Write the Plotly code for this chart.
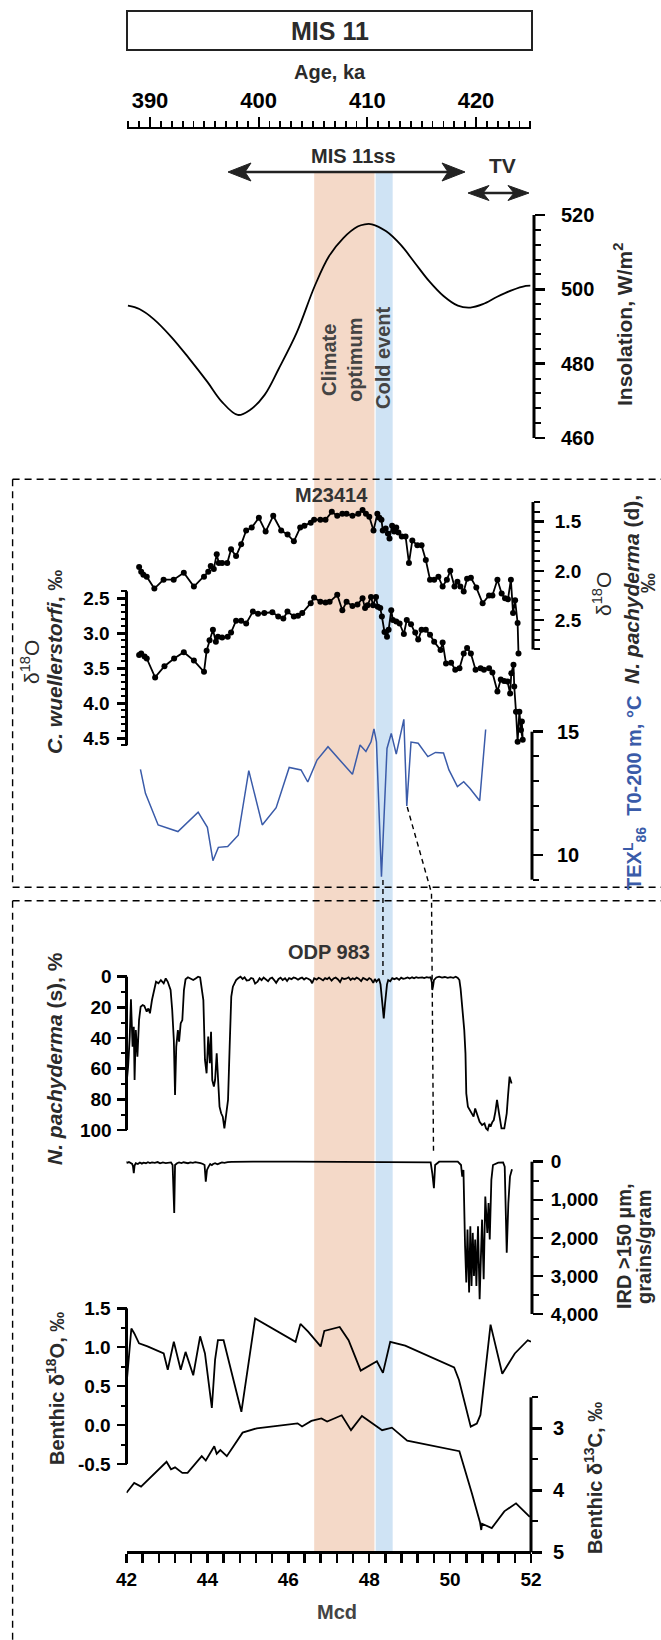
import plotly.graph_objects as go

W, H = 661, 1640

# ---------------- data ----------------
# Insolation (W/m2) vs age (ka)
insol_age = [387.97, 389.02, 390.34, 391.99, 393.63, 395.28, 396.60, 398.08, 399.23, 400.55,
             401.86, 403.51, 405.16, 406.47, 407.79, 409.11, 409.77, 410.42, 411.74, 413.06,
             414.38, 415.69, 417.01, 418.33, 419.48, 420.63, 421.95, 423.27, 424.58, 425.0]
insol_val = [495.6, 494.7, 492.0, 487.1, 481.3, 475.1, 469.8, 466.2, 467.6, 471.6,
             478.7, 488.4, 500.9, 508.9, 513.8, 516.9, 517.5, 517.5, 515.6, 512.0,
             507.1, 502.2, 498.2, 495.6, 495.1, 496.0, 498.0, 499.7, 500.9, 501.0]

# M23414: N. pachyderma (d) d18O vs age
npd_age = [389.00, 389.19, 389.39, 389.70, 390.40, 391.25, 392.18, 393.11, 394.04, 394.97,
           395.36, 395.59, 395.87, 396.14, 396.33, 396.64, 397.11, 397.46, 397.92, 398.39,
           398.85, 399.36, 400.02, 400.64, 401.34, 402.07, 402.66, 403.24, 403.82, 404.21,
           404.79, 405.10, 405.68, 406.15, 406.73, 407.23, 407.70, 408.09, 408.63, 409.17,
           409.56, 409.87, 410.18, 410.57, 410.92, 411.11, 411.30, 411.42, 411.69, 411.89,
           412.04, 412.28, 412.47, 412.66, 412.86, 413.17, 413.52, 413.83, 414.14, 414.60,
           414.99, 415.38, 415.77, 416.15, 416.54, 416.93, 417.32, 417.63, 418.02, 418.29,
           418.56, 418.87, 419.18, 419.53, 420.03, 420.61, 421.20, 421.51, 421.97, 422.36,
           422.67, 422.94, 423.21, 423.41, 423.60, 423.83, 423.91]
npd_d18o = [1.96, 2.01, 2.04, 2.06, 2.18, 2.09, 2.09, 2.02, 2.16, 2.06,
            2.01, 1.95, 1.98, 1.83, 1.92, 1.92, 1.92, 1.78, 1.85, 1.73,
            1.59, 1.56, 1.46, 1.60, 1.44, 1.59, 1.63, 1.70, 1.56, 1.54,
            1.51, 1.48, 1.48, 1.48, 1.40, 1.44, 1.42, 1.42, 1.44, 1.42,
            1.38, 1.42, 1.45, 1.59, 1.42, 1.46, 1.48, 1.59, 1.57, 1.62,
            1.67, 1.54, 1.60, 1.56, 1.61, 1.65, 1.65, 1.92, 1.69, 1.74,
            1.74, 1.89, 2.09, 2.09, 2.06, 2.16, 2.09, 2.00, 2.16, 2.11,
            2.16, 2.21, 2.08, 2.07, 2.17, 2.33, 2.25, 2.25, 2.09, 2.23,
            2.28, 2.29, 2.09, 2.43, 2.30, 2.53, 2.84]

# M23414: C. wuellerstorfi d18O vs age
cw_age = [389.00, 389.19, 389.50, 389.70, 390.47, 391.33, 392.22, 393.11, 394.04, 394.97,
          395.21, 395.48, 395.79, 396.06, 396.25, 396.64, 397.15, 397.46, 397.92, 398.39,
          398.85, 399.47, 399.94, 400.52, 401.26, 401.80, 402.27, 402.65, 403.24, 403.62,
          404.01, 404.79, 405.10, 405.68, 406.15, 406.53, 407.23, 407.70, 408.09, 408.63,
          409.09, 409.56, 409.79, 410.02, 410.34, 410.53, 410.80, 410.96, 411.19, 411.34,
          411.58, 411.81, 411.96, 412.20, 412.35, 412.66, 412.97, 413.36, 413.63, 414.02,
          414.41, 414.68, 414.99, 415.38, 415.77, 416.15, 416.74, 416.93, 417.24, 417.71,
          418.09, 418.48, 418.87, 419.18, 419.53, 419.96, 420.42, 420.73, 421.20, 421.51,
          421.97, 422.28, 422.59, 422.90, 423.14, 423.25, 423.45, 423.52, 423.68, 423.83,
          423.99, 424.14, 424.30, 424.22]
cw_d18o = [3.31, 3.29, 3.33, 3.36, 3.63, 3.47, 3.36, 3.27, 3.39, 3.55,
           3.25, 3.10, 2.95, 3.12, 3.05, 3.06, 3.05, 2.99, 2.82, 2.82,
           2.86, 2.69, 2.72, 2.71, 2.70, 2.76, 2.79, 2.69, 2.76, 2.75,
           2.71, 2.57, 2.49, 2.55, 2.56, 2.55, 2.45, 2.67, 2.55, 2.61,
           2.59, 2.50, 2.64, 2.60, 2.48, 2.60, 2.48, 2.62, 2.64, 2.76,
           2.98, 3.05, 2.95, 2.67, 2.81, 2.83, 2.86, 3.01, 2.81, 2.87,
           2.99, 3.09, 2.95, 2.95, 3.02, 3.12, 3.24, 3.13, 3.43, 3.42,
           3.52, 3.50, 3.29, 3.21, 3.29, 3.52, 3.50, 3.52, 3.50, 3.56,
           3.83, 3.66, 3.68, 3.69, 3.86, 3.57, 3.45, 3.76, 4.12, 4.55,
           4.12, 4.38, 4.52, 4.26]

# M23414: TEX86L temperature 0-200 m vs age
tex_age = [389.12, 389.58, 390.75, 392.57, 394.43, 395.28, 395.79, 396.29, 397.15, 398.12,
           399.09, 400.33, 401.61, 402.81, 403.90, 404.52, 405.37, 406.38, 408.63, 409.33,
           409.87, 410.34, 410.61, 410.84, 411.30, 411.81, 412.20, 412.66, 413.36, 413.63,
           414.02, 414.68, 415.57, 416.27, 417.01, 417.51, 418.29, 418.87, 419.45, 420.34,
           420.89]
tex_temp = [13.47, 12.50, 11.22, 10.95, 11.74, 11.12, 9.77, 10.31, 10.34, 10.80,
            13.42, 11.22, 11.92, 13.55, 13.45, 12.96, 13.85, 14.39, 13.27, 14.46,
            14.20, 14.59, 15.11, 14.59, 9.12, 14.32, 14.93, 14.09, 15.50, 11.99,
            14.58, 14.53, 13.99, 14.16, 14.14, 13.45, 12.77, 12.97, 12.70, 12.20,
            15.09]

# ODP 983: N. pachyderma (s) % vs Mcd
nps_mcd = [42.00, 42.04, 42.08, 42.11, 42.15, 42.18, 42.20, 42.23, 42.27, 42.31,
           42.35, 42.40, 42.44, 42.50, 42.54, 42.58, 42.63, 42.68, 42.73, 42.79,
           42.85, 42.92, 42.97, 43.02, 43.09, 43.13, 43.17, 43.20, 43.23, 43.27,
           43.30, 43.34, 43.38, 43.42, 43.46, 43.52, 43.59, 43.65, 43.71, 43.77,
           43.82, 43.86, 43.90, 43.94, 43.98, 44.02, 44.06, 44.09, 44.12, 44.16,
           44.19, 44.23, 44.27, 44.30, 44.34, 44.38, 44.42, 44.46, 44.51, 44.55,
           44.59, 44.63, 44.67, 44.71, 44.76, 44.82, 44.87, 44.92, 44.97, 45.03,
           45.08, 45.13, 45.18, 45.24, 45.29, 45.34, 45.39, 45.44, 45.50, 45.55,
           45.60, 45.65, 45.70, 45.76, 45.81, 45.86, 45.92, 45.97, 46.02, 46.08,
           46.13, 46.18, 46.24, 46.29, 46.34, 46.39, 46.44, 46.49, 46.55, 46.59,
           46.64, 46.70, 46.75, 46.80, 46.86, 46.91, 46.96, 47.01, 47.07, 47.12,
           47.17, 47.23, 47.28, 47.33, 47.38, 47.43, 47.49, 47.54, 47.59, 47.64,
           47.69, 47.74, 47.80, 47.85, 47.90, 47.95, 48.00, 48.05, 48.10, 48.14,
           48.18, 48.24, 48.28, 48.30, 48.33, 48.36, 48.39, 48.41, 48.44, 48.47,
           48.52, 48.57, 48.62, 48.68, 48.74, 48.79, 48.84, 48.89, 48.95, 49.00,
           49.06, 49.11, 49.16, 49.21, 49.26, 49.31, 49.36, 49.42, 49.47, 49.52,
           49.55, 49.56, 49.58, 49.60, 49.66, 49.73, 49.80, 49.87, 49.94, 50.01,
           50.08, 50.14, 50.19, 50.23, 50.26, 50.28, 50.30, 50.32, 50.34, 50.35,
           50.38, 50.40, 50.44, 50.49, 50.54, 50.58, 50.62, 50.66, 50.70, 50.73,
           50.79, 50.85, 50.89, 50.93, 50.97, 51.00, 51.04, 51.08, 51.12, 51.16,
           51.21, 51.27, 51.34, 51.40, 51.43, 51.47, 51.52]
nps_pct = [70.0, 58.7, 39.1, 14.8, 45.7, 32.6, 67.4, 34.8, 52.2, 28.3,
           19.6, 18.5, 19.1, 22.8, 20.7, 23.9, 15.2, 8.7, 3.3, 4.3,
           2.2, 4.3, 1.1, 3.3, 8.7, 21.7, 41.3, 77.2, 45.7, 34.8,
           42.4, 30.4, 28.3, 8.7, 1.7, 0.4, 1.1, 2.2, 1.1, 0.0,
           0.5, 8.7, 15.2, 54.3, 63.0, 39.1, 56.5, 35.9, 67.4, 71.7,
           67.4, 50.0, 73.9, 84.8, 89.1, 91.3, 98.9, 89.1, 80.4, 45.7,
           13.0, 6.5, 4.3, 2.2, 1.0, 0.0, 1.5, 0.4, 2.5, 2.2,
           0.8, 1.3, 4.5, 3.3, 1.0, 2.2, 0.5, 1.7, 3.0, 1.2,
           0.6, 2.2, 4.0, 1.5, 0.7, 2.2, 1.0, 2.8, 0.9, 1.6,
           0.5, 0.9, 2.0, 1.1, 0.6, 1.8, 0.8, 1.3, 2.3, 4.3,
           1.0, 1.9, 0.7, 1.3, 2.4, 0.9, 1.6, 0.5, 2.6, 1.1,
           0.6, 1.8, 3.5, 0.8, 1.5, 1.3, 0.4, 2.1, 1.0, 1.7,
           0.6, 1.3, 2.9, 0.8, 1.4, 2.2, 0.9, 1.7, 4.0, 1.5,
           3.3, 1.3, 5.0, 10.9, 20.0, 27.2, 18.0, 13.0, 5.0, 2.2,
           3.0, 1.0, 1.6, 0.9, 2.0, 0.6, 1.4, 1.1, 0.5, 1.2,
           0.4, 1.0, 0.3, 0.8, 0.5, 0.4, 0.9, 0.3, 0.6, 0.4,
           4.0, 8.7, 6.0, 2.2, 0.5, 0.0, 0.6, 0.2, 0.8, 0.3,
           0.7, 0.0, 0.8, 2.2, 8.0, 13.0, 20.0, 23.9, 28.0, 34.8,
           50.0, 76.1, 84.8, 87.0, 89.1, 91.3, 86.0, 89.1, 93.0, 94.6,
           96.7, 95.7, 99.0, 100.0, 96.0, 97.8, 95.0, 93.5, 88.0, 80.4,
           89.1, 98.9, 98.9, 89.1, 78.3, 65.2, 69.6]

# ODP 983: IRD >150 um (grains/gram) vs Mcd
ird_mcd = [41.97, 42.02, 42.06, 42.10, 42.14, 42.16, 42.18, 42.20, 42.23, 42.28,
           42.33, 42.38, 42.42, 42.48, 42.53, 42.58, 42.63, 42.70, 42.77, 42.83,
           42.90, 42.97, 43.04, 43.10, 43.14, 43.16, 43.18, 43.20, 43.25, 43.30,
           43.36, 43.41, 43.46, 43.52, 43.58, 43.64, 43.70, 43.77, 43.83, 43.89,
           43.93, 43.96, 43.99, 44.03, 44.07, 44.11, 44.14, 44.19, 44.25, 44.30,
           44.36, 44.42, 44.50, 44.60, 44.80, 45.13, 46.18, 47.22, 48.26, 49.31,
           49.52, 49.56, 49.60, 49.63, 49.73, 50.19, 50.27, 50.30, 50.33, 50.37,
           50.40, 50.43, 50.47, 50.50, 50.53, 50.56, 50.59, 50.62, 50.65, 50.69,
           50.73, 50.76, 50.79, 50.83, 50.87, 50.92, 50.95, 50.98, 51.02, 51.06,
           51.19, 51.31, 51.35, 51.40, 51.44, 51.48, 51.53]
ird_val = [0, 30, 10, 40, 60, 120, 304, 100, 40, 60,
           20, 50, 26, 40, 15, 35, 17, 30, 10, 43,
           20, 35, 15, 17, 87, 652, 1348, 87, 40, 20,
           35, 15, 26, 40, 20, 30, 10, 17, 40, 60,
           87, 522, 217, 130, 60, 90, 61, 40, 70, 43,
           20, 30, 9, 5, 0, 0, 0, 0, 0, 0,
           17, 304, 696, 87, 0, 0, 87, 391, 217, 2217,
           3174, 1783, 3435, 1696, 3261, 1870, 3000, 2043, 3261, 1696,
           3609, 2565, 1522, 3087, 913, 1870, 1087, 2043, 478, 87,
           26, 17, 130, 2391, 1087, 391, 200]

# ODP 983: benthic d18O vs Mcd
bo_mcd = [42.00, 42.12, 42.19, 42.31, 42.52, 42.92, 43.02, 43.17, 43.34, 43.46,
          43.65, 43.82, 43.94, 44.11, 44.19, 44.26, 44.40, 44.84, 45.18, 46.18,
          46.30, 46.49, 46.80, 46.89, 47.27, 47.49, 47.79, 48.19, 48.34, 48.52,
          48.89, 50.10, 50.22, 50.51, 50.66, 50.75, 51.00, 51.29, 51.60, 51.92,
          52.00]
bo_d18o = [0.52, 1.24, 1.18, 1.05, 1.01, 0.92, 0.71, 1.07, 0.71, 0.94,
           0.64, 1.14, 0.92, 0.22, 0.84, 1.09, 1.09, 0.17, 1.37, 1.07,
           1.30, 1.20, 1.01, 1.21, 1.26, 1.09, 0.70, 0.82, 0.67, 1.07,
           1.02, 0.74, 0.58, -0.02, 0.02, 0.13, 1.29, 0.66, 0.92, 1.09,
           1.07]

# ODP 983: benthic d13C vs Mcd
bc_mcd = [42.00, 42.19, 42.36, 42.99, 43.10, 43.20, 43.38, 43.51, 43.86, 43.96,
          44.17, 44.23, 44.32, 44.48, 44.87, 45.22, 46.23, 46.34, 46.57, 46.82,
          46.96, 47.32, 47.55, 47.82, 48.32, 48.56, 48.94, 50.23, 50.54, 50.74,
          50.77, 50.79, 51.03, 51.34, 51.63, 51.97]
bc_d13c = [4.04, 3.88, 3.94, 3.54, 3.66, 3.63, 3.72, 3.72, 3.45, 3.52,
           3.29, 3.41, 3.35, 3.45, 3.07, 3.00, 2.92, 2.97, 2.88, 2.84,
           2.89, 2.79, 3.03, 2.80, 3.03, 2.99, 3.20, 3.37, 4.05, 4.52,
           4.64, 4.54, 4.61, 4.34, 4.21, 4.43]

# shaded intervals (Mcd)
optimum_band = [46.64, 48.13]
cold_band = [48.16, 48.58]

# tick labels
age_ticks = [390, 400, 410, 420]
mcd_ticks = [42, 44, 46, 48, 50, 52]
insol_ticks = [460, 480, 500, 520]
npd_ticks = [1.5, 2.0, 2.5]
cw_ticks = [2.5, 3.0, 3.5, 4.0, 4.5]
tex_ticks = [10, 15]
nps_ticks = [0, 20, 40, 60, 80, 100]
ird_ticks = [0, 1000, 2000, 3000, 4000]
ird_labels = ["0", "1,000", "2,000", "3,000", "4,000"]
bo_ticks = [1.5, 1.0, 0.5, 0.0, -0.5]
bc_ticks = [3, 4, 5]

assert len(nps_mcd) == len(nps_pct)
assert len(ird_mcd) == len(ird_val)

# ---------------- layout helpers ----------------
FONT = "Liberation Sans, Arial, Helvetica, sans-serif"
TXT = "#2b2b2b"
BLUE = "#3a5ba9"


def X(px):
    return px / W


def Y(py):
    return 1 - py / H


def vrange(v1, p1, v2, p2):
    s = (v2 - v1) / (p2 - p1)
    return [v1 + (H - p1) * s, v1 - p1 * s]


XL, XR = 126.5, 531.0
age_s = 30.0 / (476.0 - 150.0)
age_range = [390 + (XL - 150) * age_s, 390 + (XR - 150) * age_s]

fig = go.Figure()

BK = dict(color="black", width=1.8)
MK = dict(color="black", size=6, symbol="circle")

fig.add_trace(go.Scatter(x=insol_age, y=insol_val, xaxis="x2", yaxis="y", mode="lines",
                         line=dict(color="black", width=1.8, shape="spline"), hoverinfo="skip"))
fig.add_trace(go.Scatter(x=npd_age, y=npd_d18o, xaxis="x2", yaxis="y2", mode="lines+markers",
                         line=BK, marker=MK, hoverinfo="skip"))
fig.add_trace(go.Scatter(x=cw_age, y=cw_d18o, xaxis="x2", yaxis="y3", mode="lines+markers",
                         line=BK, marker=MK, hoverinfo="skip"))
fig.add_trace(go.Scatter(x=tex_age, y=tex_temp, xaxis="x2", yaxis="y4", mode="lines",
                         line=dict(color=BLUE, width=1.5), hoverinfo="skip"))
fig.add_trace(go.Scatter(x=nps_mcd, y=nps_pct, xaxis="x", yaxis="y5", mode="lines",
                         line=dict(color="black", width=1.8), hoverinfo="skip"))
fig.add_trace(go.Scatter(x=ird_mcd, y=ird_val, xaxis="x", yaxis="y6", mode="lines",
                         line=dict(color="black", width=1.8), hoverinfo="skip"))
fig.add_trace(go.Scatter(x=bo_mcd, y=bo_d18o, xaxis="x", yaxis="y7", mode="lines",
                         line=dict(color="black", width=1.8), hoverinfo="skip"))
fig.add_trace(go.Scatter(x=bc_mcd, y=bc_d13c, xaxis="x", yaxis="y8", mode="lines",
                         line=dict(color="black", width=1.8), hoverinfo="skip"))

shapes = []
layout_axes = {}
TICKFONT = dict(family=FONT, size=19, color="black", weight="bold")


def steps(lo, hi, step):
    n = int(round((hi - lo) / step))
    return [round(lo + k * step, 4) for k in range(n + 1)]


def add_y(name, rng, pos, side, lo, hi, major, labels, minor_step, standoff, first=False,
          fsize=19):
    key = "yaxis" if name == "y" else "yaxis" + name[1:]
    ax = dict(domain=[0, 1], range=rng, anchor="free", position=X(pos), side=side,
              showline=False, showgrid=False, zeroline=False, automargin=False,
              ticks="outside", ticklen=10, tickwidth=2.5, tickcolor="black",
              tickvals=major, ticktext=labels,
              tickfont=dict(family=FONT, size=fsize, color="black", weight="bold"),
              ticklabelstandoff=standoff,
              minor=dict(tickvals=steps(lo, hi, minor_step), ticks="outside", ticklen=6,
                         tickwidth=2, tickcolor="black", showgrid=False),
              fixedrange=True)
    if not first:
        ax["overlaying"] = "y"
    layout_axes[key] = ax
    shapes.append(dict(type="line", xref="paper", yref=name, x0=X(pos), x1=X(pos),
                       y0=lo, y1=hi, line=dict(color="black", width=3)))


add_y("y", vrange(520, 215, 460, 438), 534, "right", 460, 520, insol_ticks,
      [str(v) for v in insol_ticks], 4, 12, first=True, fsize=20)
add_y("y2", vrange(1.5, 521.7, 2.5, 620.0), 533, "right", 1.3, 2.8, npd_ticks,
      ["%.1f" % v for v in npd_ticks], 0.1, 7)
add_y("y3", vrange(2.5, 598.3, 4.5, 738.3), 126.5, "left", 2.4, 4.6, cw_ticks,
      ["%.1f" % v for v in cw_ticks], 0.1, 3)
add_y("y4", vrange(15, 731.7, 10, 855.0), 532, "right", 9, 15, tex_ticks,
      [str(v) for v in tex_ticks], 1, 10, fsize=20)
add_y("y5", vrange(0, 976.7, 100, 1130.0), 126.5, "left", 0, 100, nps_ticks,
      [str(v) for v in nps_ticks], 10, 1)
add_y("y6", vrange(0, 1161.7, 4000, 1314.0), 532, "right", 0, 4000, ird_ticks,
      ird_labels, 500, 4)
add_y("y7", vrange(1.5, 1308.3, -0.5, 1464.0), 126.5, "left", -0.5, 1.5, bo_ticks,
      ["%.1f" % v if v >= 0 else "-%.1f" % abs(v) for v in bo_ticks], 0.25, 2)
add_y("y8", vrange(3, 1428.3, 5, 1552.3), 531, "right", 2.5, 5, bc_ticks,
      [str(v) for v in bc_ticks], 0.5, 7, fsize=20)

# shaded bands
for band, col in [(optimum_band, "#f4d9c8"), (cold_band, "#cfe3f4")]:
    shapes.append(dict(type="rect", xref="x", yref="paper", x0=band[0], x1=band[1],
                       y0=Y(1552), y1=Y(171), fillcolor=col, line=dict(width=0), layer="below"))

# MIS 11 box
shapes.append(dict(type="rect", xref="paper", yref="paper", x0=X(127), x1=X(532),
                   y0=Y(50), y1=Y(11), line=dict(color="#222", width=2), fillcolor="rgba(0,0,0,0)"))

# dashed panel frames
DASH = dict(color="black", width=1.4, dash="7px,5px")
for (x0, y0, x1, y1) in [(12.6, 479.3, 661, 479.3), (12.6, 479.3, 12.6, 887.3),
                         (12.6, 887.3, 661, 887.3), (12.6, 900.7, 661, 900.7),
                         (12.6, 900.7, 12.6, 1640)]:
    shapes.append(dict(type="line", xref="paper", yref="paper", x0=X(x0), x1=X(x1),
                       y0=Y(y0), y1=Y(y1), line=DASH))

# connector lines (Mcd x, paper y)
CDASH = dict(color="black", width=1.4, dash="5px,4px")
shapes.append(dict(type="path", xref="x", yref="paper",
                   path="M 48.34 %f L 48.34 %f" % (Y(880), Y(975)), line=CDASH))
shapes.append(dict(type="path", xref="x", yref="paper",
                   path="M 48.94 %f L 49.54 %f L 49.59 %f" % (Y(807), Y(893), Y(1153)), line=CDASH))


# double-headed arrows drawn as shapes (pixel geometry -> paper)
def head(tipx, y, direction, length=22, half=8, notch=6):
    bx = tipx + direction * length
    nx = tipx + direction * (length - notch)
    return ("M %f %f L %f %f L %f %f L %f %f Z" %
            (X(tipx), Y(y), X(bx), Y(y - half), X(nx), Y(y), X(bx), Y(y + half)))


def darrow(x0, x1, y, length=22, half=8):
    shapes.append(dict(type="line", xref="paper", yref="paper", x0=X(x0 + 8), x1=X(x1 - 8),
                       y0=Y(y), y1=Y(y), line=dict(color="#222", width=2.6)))
    for tip, d in [(x0, 1), (x1, -1)]:
        shapes.append(dict(type="path", xref="paper", yref="paper",
                           path=head(tip, y, d, length, half), fillcolor="#222",
                           line=dict(color="#222", width=1)))


darrow(228, 465, 172, length=23, half=9)
darrow(468, 529, 193, length=21, half=7.5)

# annotations
anns = []


def ann(text, x, y, size=21, angle=0, color=TXT, weight="bold"):
    anns.append(dict(text=text, x=X(x), y=Y(y), xref="paper", yref="paper", showarrow=False,
                     textangle=angle, xanchor="center", yanchor="middle",
                     font=dict(family=FONT, size=size, color=color, weight=weight)))


ann("MIS 11", 330, 31, size=25)
ann("Age, ka", 330, 72, size=20)
ann("MIS 11ss", 353, 156, size=20)
ann("TV", 502, 166, size=21)
ann("Climate<br>optimum", 342, 360, size=20, angle=-90, color="#444")
ann("Cold event", 383, 358, size=20, angle=-90, color="#444")
ann("Insolation, W/m<sup>2</sup>", 623, 325, size=21, angle=-90)
ann("M23414", 331, 495, size=20, color="#333")
ann("δ<sup>18</sup>O", 602, 594, size=21, angle=-90, weight="normal")
ann("<i>N. pachyderma</i> (d),", 631, 590, size=21, angle=-90)
ann("‰", 648, 583, size=20, angle=-90)
ann("δ<sup>18</sup>O", 30, 662, size=21, angle=-90, weight="normal")
ann("<i>C. wuellerstorfi</i>, ‰", 54, 662, size=21, angle=-90)
ann("TEX<sup>L</sup><sub>86</sub>  T0-200 m, °C", 634, 793, size=20, angle=-90, color=BLUE)
ann("ODP 983", 329, 952, size=20, color="#333")
ann("<i>N. pachyderma</i> (s), %", 54, 1058, size=21, angle=-90)
ann("IRD >150 µm,", 624, 1247, size=20, angle=-90)
ann("grains/gram", 644, 1247, size=20, angle=-90)
ann("Benthic δ<sup>18</sup>O, ‰", 55, 1388, size=20, angle=-90)
ann("Benthic δ<sup>13</sup>C, ‰", 593, 1478, size=20, angle=-90)
ann("Mcd", 337, 1612, size=20, color="#444")

fig.update_layout(
    width=W, height=H, margin=dict(l=0, r=0, t=0, b=0),
    paper_bgcolor="white", plot_bgcolor="rgba(0,0,0,0)", template="none",
    showlegend=False, hovermode=False,
    font=dict(family=FONT, color="black"),
    xaxis=dict(domain=[X(XL), X(XR)], range=[42, 52], anchor="free", position=Y(1552),
               side="bottom", showline=True, linewidth=3, linecolor="black", mirror=False,
               showgrid=False, zeroline=False, automargin=False,
               ticks="outside", ticklen=9, tickwidth=2.5, tickcolor="black",
               tickvals=mcd_ticks, ticktext=[str(v) for v in mcd_ticks], tickfont=TICKFONT,
               minor=dict(tickvals=steps(42, 52, 0.4), ticks="outside", ticklen=9,
                          tickwidth=2.5, tickcolor="black", showgrid=False),
               fixedrange=True),
    xaxis2=dict(domain=[X(XL), X(XR)], range=age_range, overlaying="x", anchor="free",
                position=Y(128), side="top", showline=True, linewidth=2, linecolor="black",
                showgrid=False, zeroline=False, automargin=False,
                ticks="outside", ticklen=10, tickwidth=2, tickcolor="black",
                tickvals=age_ticks, ticktext=[str(v) for v in age_ticks],
                tickfont=dict(family=FONT, size=22, color="black", weight="bold"),
                minor=dict(tickvals=list(range(388, 426)), ticks="outside", ticklen=6,
                           tickwidth=1.8, tickcolor="black", showgrid=False),
                fixedrange=True),
    shapes=shapes,
    annotations=anns,
    **layout_axes,
)

fig.write_html("out.html", config={"displayModeBar": False, "staticPlot": True},
               post_script="document.body.style.margin='0px';")
